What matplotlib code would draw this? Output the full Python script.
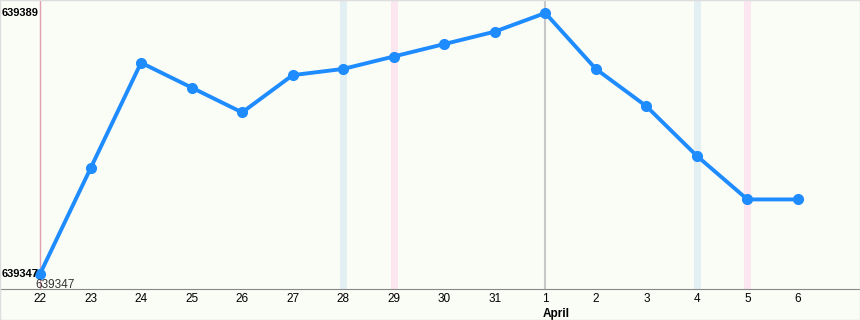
import matplotlib.pyplot as plt

plt.rcParams['font.family'] = ['Liberation Sans', 'DejaVu Sans']

# dados
dias = ['22', '23', '24', '25', '26', '27', '28', '29', '30', '31',
        '1', '2', '3', '4', '5', '6']
valores = [639347, 639364, 639381, 639377, 639373, 639379, 639380, 639382,
           639384, 639386, 639389, 639380, 639374, 639366, 639359, 639359]
mes_label = 'April'
y_min, y_max = 639347, 639389
faixas_azuis = ['28', '4']
faixas_rosa = ['29', '5']

x = list(range(len(dias)))

fig = plt.figure(figsize=(8.6, 3.2), dpi=100)
fig.patch.set_facecolor('#fafcf6')
ax = fig.add_axes([0, 31 / 320, 1, 289 / 320])
ax.set_facecolor('#fafcf6')

for d in faixas_azuis:
    ax.axvline(dias.index(d), color='#e2eff3', lw=5, zorder=1)
for d in faixas_rosa:
    ax.axvline(dias.index(d), color='#fce6f0', lw=5, zorder=1)
ax.axvline(dias.index('1'), color='#c8c8c8', lw=1.5, zorder=1)
ax.axvline(0, color='#e0a0b0', lw=1, zorder=1)

ax.plot(x, valores, color='#1e8cff', lw=2.8, marker='o', ms=7,
        solid_capstyle='round', zorder=3)

passo = 50.53
ax.set_xlim(-40 / passo, (860 - 40) / passo)
esc = 261 / (y_max - y_min)
ax.set_ylim(y_min - 15 / esc, y_max + 13 / esc)

ax.set_xticks(x)
ax.set_xticklabels(dias, fontsize=8.5)
ax.tick_params(axis='x', length=0, pad=3)
ax.set_yticks([])
for s in ['top', 'right', 'left']:
    ax.spines[s].set_visible(False)
ax.spines['bottom'].set_color('#888888')

# rotulos do eixo y dentro do grafico
ax.text(-0.02, y_max, str(y_max), ha='right', va='center', fontsize=8,
        fontweight='bold')
ax.text(-0.02, y_min, str(y_min), ha='right', va='center', fontsize=8,
        fontweight='bold')
ax.text(-0.1, y_min - 0.8, str(valores[0]), ha='left', va='top', fontsize=8.5,
        color='#333333')
ax.annotate(mes_label, xy=(dias.index('1') + 0.22, 0),
            xycoords=('data', 'axes fraction'), xytext=(0, -14),
            textcoords='offset points', ha='center', va='top', fontsize=8.5,
            fontweight='bold')

# borda clara
fig.add_artist(plt.Rectangle((0, 0), 1, 1, transform=fig.transFigure,
                             fill=False, ec='#dddddd', lw=1))

plt.savefig('out.png', dpi=100, facecolor=fig.get_facecolor())
